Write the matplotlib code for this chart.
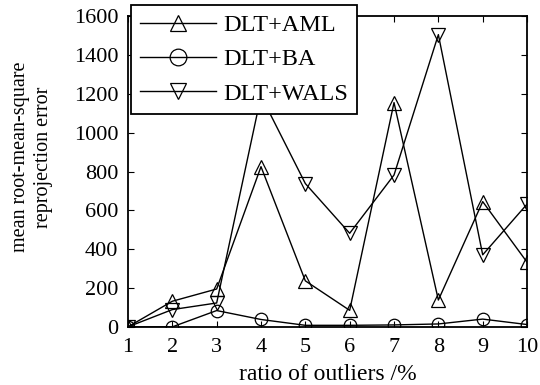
import numpy as np
import matplotlib.pyplot as plt

plt.rcParams['font.family'] = ['Liberation Serif', 'DejaVu Serif']

# outlier ratio in percent
ratio = [1, 2, 3, 4, 5, 6, 7, 8, 9, 10]

# mean rms reprojection error
aml = [0, 132, 195, 825, 237, 85, 1155, 138, 645, 333]
ba = [0, 0, 84, 38, 8, 8, 10, 15, 40, 12]
wals = [0, 89, 123, 1190, 738, 482, 782, 1505, 371, 632]

fig = plt.figure(figsize=(5.4, 3.85), dpi=100)
ax = fig.add_axes([0.237, 0.151, 0.739, 0.807])

style = dict(color='k', lw=1.0, mfc='none', mec='k', mew=0.9)
ax.plot(ratio, aml, marker='^', ms=10, label='DLT+AML', **style)
ax.plot(ratio, ba, marker='o', ms=9, label='DLT+BA', **style)
ax.plot(ratio, wals, marker='v', ms=10, label='DLT+WALS', **style)

ax.set_xlim(1, 10)
ax.set_ylim(0, 1600)
ax.set_xticks(ratio)
ax.set_yticks(np.arange(0, 1601, 200))
ax.tick_params(direction='in', top=True, right=True, labelsize=16, length=4, pad=7)
ax.tick_params(axis='x', pad=8)
for s in ax.spines.values():
    s.set_linewidth(1.3)

ax.set_xlabel('ratio of outliers /%', fontsize=17, labelpad=5)
fig.text(32 / 540, 1 - 157 / 385, 'mean root-mean-square\nreprojection error',
         rotation=90, ha='center', va='center', multialignment='center',
         fontsize=14.5, linespacing=1.3)

leg = ax.legend(loc='upper left', bbox_to_anchor=(131 / 540, 1 - 5 / 385),
                bbox_transform=fig.transFigure, borderaxespad=0, fontsize=17.5,
                fancybox=False, framealpha=1, edgecolor='k', handlelength=3.1,
                labelspacing=0.5, borderpad=0.38, handletextpad=0.3)
leg.get_frame().set_linewidth(1.3)
for h in leg.legend_handles:
    h.set_markersize(12)

fig.savefig('out.png', dpi=100)
